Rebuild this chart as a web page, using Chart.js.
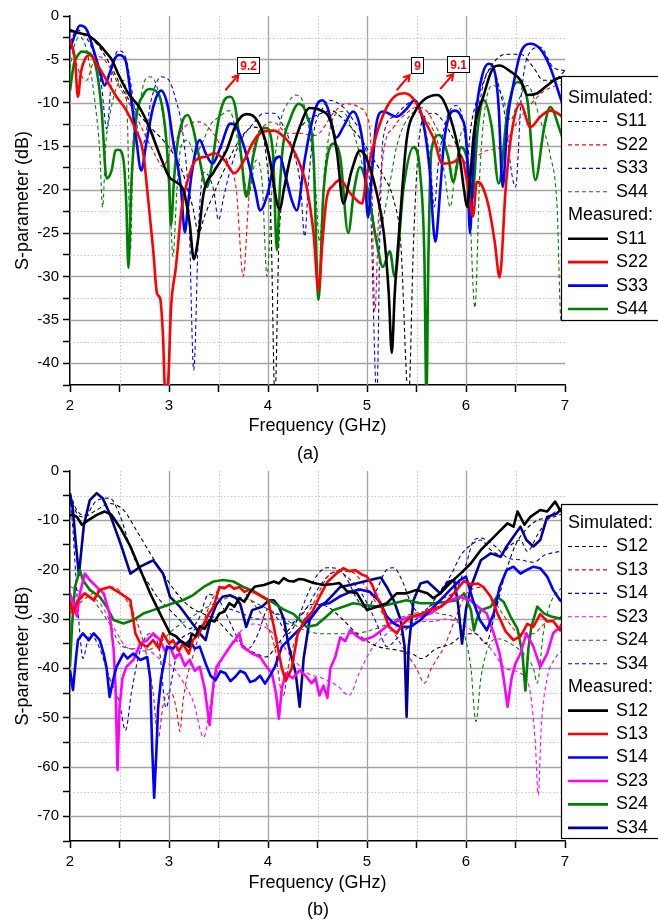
<!DOCTYPE html>
<html>
<head>
<meta charset="utf-8">
<script src="https://cdn.jsdelivr.net/npm/chart.js"></script>
<style>
  body { margin: 0; background: #fff; }
  #chartA { position: absolute; left: 0; top: 0; }
  #chartB { position: absolute; left: 0; top: 458px; }
</style>
</head>
<body>
<canvas id="chartA" width="658" height="470"></canvas>
<canvas id="chartB" width="658" height="463"></canvas>
<script>
// ---- (a) reflection, [GHz, dB] ----
const aS11Sim = [[2.00,-1.8],[2.13,-2.0],[2.27,-3.2],[2.40,-5.5],[2.54,-8.6],[2.67,-10.9],[2.81,-12.8],[2.94,-14.3],[3.04,-15.8],[3.14,-18.1],[3.24,-22],[3.30,-25],[3.36,-23],[3.44,-20.8],[3.57,-17.4],[3.71,-14.3],[3.85,-12.8],[3.92,-13],[3.98,-16],[4.03,-24],[4.07,-44],[4.11,-26],[4.16,-20],[4.20,-17.4],[4.30,-13.5],[4.40,-12],[4.50,-11.4],[4.64,-10.9],[4.77,-12],[4.87,-13.2],[4.97,-14.7],[5.07,-16.6],[5.17,-18.5],[5.27,-21.2],[5.34,-26],[5.42,-44],[5.47,-26],[5.52,-15],[5.58,-11.6],[5.68,-11.2],[5.78,-12.3],[5.88,-14.3],[5.95,-16],[6.00,-17],[6.06,-12],[6.17,-7.8],[6.27,-5.5],[6.40,-4.4],[6.55,-4.4],[6.68,-5.9],[6.78,-7.4],[6.88,-7.4],[7.00,-6.3]];
const aS22Sim = [[2.00,-3],[2.10,-6.6],[2.17,-7.4],[2.23,-5.5],[2.30,-4.7],[2.40,-5.9],[2.50,-8.2],[2.64,-10.9],[2.75,-13.5],[2.87,-16.2],[2.94,-17.4],[3.00,-16],[3.07,-14.3],[3.20,-12.4],[3.31,-12.2],[3.41,-13],[3.51,-14.7],[3.61,-17.4],[3.68,-20],[3.75,-30],[3.80,-22],[3.85,-15.5],[3.95,-12.8],[4.05,-12.2],[4.20,-13.5],[4.33,-13.5],[4.45,-13.8],[4.52,-13.5],[4.66,-11.2],[4.79,-10.1],[4.92,-10.5],[5.00,-11.6],[5.04,-15],[5.08,-34],[5.12,-22],[5.17,-15.5],[5.27,-12.8],[5.40,-11.2],[5.50,-10.5],[5.60,-10.9],[5.70,-12.8],[5.77,-14.3],[5.86,-15],[5.94,-15],[6.08,-16.2],[6.21,-15.5],[6.35,-15.1],[6.45,-13.5],[6.53,-12],[6.66,-10.1],[6.76,-8.9],[6.86,-8.2],[7.00,-7.8]];
const aS33Sim = [[2.00,-3],[2.07,-1.6],[2.13,-2],[2.24,-4.3],[2.32,-8.2],[2.37,-13],[2.43,-5.9],[2.49,-4],[2.56,-4.7],[2.62,-8.2],[2.69,-13.5],[2.74,-14.7],[2.82,-9.7],[2.92,-7],[3.00,-7.4],[3.07,-9.7],[3.14,-13.5],[3.20,-22],[3.25,-40.8],[3.30,-24],[3.35,-18],[3.45,-20],[3.50,-23.5],[3.55,-21],[3.61,-18.1],[3.71,-14.7],[3.85,-12.4],[3.96,-11.2],[4.06,-11.2],[4.16,-12.8],[4.26,-15.8],[4.33,-19.7],[4.37,-25.4],[4.41,-19],[4.46,-13.5],[4.56,-10.5],[4.62,-9.7],[4.76,-10.5],[4.86,-12],[4.96,-14.3],[5.03,-20],[5.10,-44],[5.13,-25],[5.16,-14.3],[5.27,-11.6],[5.37,-10.5],[5.48,-9.7],[5.57,-12],[5.64,-17],[5.68,-22],[5.72,-17],[5.80,-12],[5.90,-10.3],[5.96,-11.5],[6.02,-17],[6.05,-24],[6.08,-15],[6.12,-11.3],[6.19,-7.2],[6.26,-6],[6.33,-8],[6.40,-12],[6.46,-18],[6.50,-19.7],[6.56,-9],[6.62,-4.7],[6.75,-3.6],[6.88,-5.9],[7.00,-6.3]];
const aS44Sim = [[2.00,-6],[2.05,-3.2],[2.10,-2.4],[2.17,-4],[2.25,-9.7],[2.30,-15.5],[2.33,-22],[2.36,-15],[2.40,-11.6],[2.47,-8.2],[2.54,-7.4],[2.58,-12],[2.61,-27],[2.64,-14],[2.69,-10.9],[2.75,-7.6],[2.81,-7],[2.88,-8.2],[2.95,-12.4],[3.00,-18.1],[3.04,-27.7],[3.08,-20],[3.12,-15.1],[3.19,-14.3],[3.26,-16],[3.32,-15],[3.42,-12.5],[3.51,-11.6],[3.61,-10.9],[3.68,-13.5],[3.75,-18.1],[3.80,-20.8],[3.88,-16.6],[3.94,-19],[3.99,-30],[4.04,-20],[4.12,-12.5],[4.22,-9.7],[4.28,-9.1],[4.36,-10.1],[4.43,-14.3],[4.48,-19.7],[4.52,-26],[4.57,-18],[4.65,-12],[4.75,-11],[4.85,-13],[4.95,-17],[5.05,-22],[5.10,-26],[5.15,-24],[5.22,-20],[5.30,-15],[5.40,-12],[5.50,-11],[5.60,-12],[5.70,-14],[5.78,-18],[5.84,-22],[5.90,-17],[5.97,-13],[6.03,-20],[6.09,-33.6],[6.14,-18],[6.20,-10],[6.28,-8],[6.36,-9],[6.45,-12],[6.52,-10],[6.62,-8],[6.75,-12],[6.85,-16],[6.92,-22],[6.96,-35],[7.00,-30]];

const aS11Meas = [[2.00,-1.6],[2.10,-2.0],[2.18,-2.2],[2.27,-3.0],[2.35,-4.0],[2.42,-5.0],[2.50,-7.0],[2.60,-9.1],[2.70,-10.5],[2.80,-12.8],[2.90,-15.8],[3.00,-18.5],[3.08,-19.2],[3.15,-20.2],[3.21,-24],[3.25,-28],[3.29,-26],[3.35,-20.4],[3.45,-18],[3.58,-15.5],[3.68,-12.4],[3.78,-11.3],[3.85,-11.5],[3.95,-13.5],[4.02,-16.6],[4.09,-21.5],[4.12,-22.3],[4.16,-20],[4.22,-16.6],[4.32,-12.8],[4.42,-10.6],[4.52,-10.8],[4.64,-12.4],[4.70,-16],[4.76,-21.6],[4.84,-18],[4.93,-15.5],[4.99,-16.3],[5.09,-20],[5.17,-25],[5.22,-32],[5.25,-38.8],[5.28,-32],[5.33,-24],[5.40,-14.3],[5.49,-10.9],[5.57,-9.7],[5.71,-9.1],[5.77,-9.7],[5.87,-12.8],[5.93,-15.8],[5.98,-20],[6.01,-22],[6.04,-19],[6.08,-13.5],[6.18,-9.1],[6.28,-5.9],[6.34,-5.7],[6.45,-6.4],[6.55,-7.4],[6.62,-9.1],[6.72,-8.9],[6.82,-8.0],[6.92,-7.2],[7.00,-7.0]];
const aS22Meas = [[2.00,-2.8],[2.05,-5],[2.08,-9.3],[2.11,-6.5],[2.15,-5.0],[2.20,-4.5],[2.28,-5.7],[2.37,-7.4],[2.47,-9.3],[2.57,-10.9],[2.66,-13],[2.74,-15.8],[2.78,-20],[2.84,-26.9],[2.88,-32],[2.91,-32.5],[2.94,-37],[2.96,-43],[2.99,-42.2],[3.02,-33.7],[3.07,-28.9],[3.13,-22],[3.20,-18.5],[3.27,-16.6],[3.37,-16.2],[3.46,-15.8],[3.56,-16.6],[3.66,-18.1],[3.76,-16.6],[3.86,-14.3],[3.96,-13.3],[4.06,-13.2],[4.16,-13.9],[4.22,-14.7],[4.32,-17],[4.39,-19.7],[4.46,-25],[4.51,-31.6],[4.55,-26],[4.59,-21.2],[4.66,-19.5],[4.73,-18.9],[4.83,-20.4],[4.95,-21.6],[5.00,-18.1],[5.10,-13.5],[5.20,-10.5],[5.30,-9.1],[5.38,-8.9],[5.48,-9.7],[5.58,-12],[5.68,-14.3],[5.76,-17],[5.88,-16.8],[5.95,-16.2],[6.02,-19.7],[6.07,-23.1],[6.11,-19.1],[6.16,-19.5],[6.23,-22],[6.29,-26],[6.34,-30.1],[6.40,-20],[6.46,-13.5],[6.55,-10.1],[6.65,-12.8],[6.75,-11.6],[6.85,-10.9],[6.95,-11.4],[7.00,-12]];
const aS33Meas = [[2.00,-3.8],[2.05,-2.2],[2.10,-1.1],[2.17,-1.6],[2.24,-4.0],[2.30,-6.3],[2.35,-8.0],[2.40,-6.6],[2.45,-5.0],[2.49,-4.5],[2.56,-5.1],[2.62,-9.7],[2.67,-14.3],[2.72,-17.8],[2.77,-14.7],[2.84,-10.5],[2.92,-8.6],[2.99,-10.5],[3.04,-14.3],[3.12,-19.7],[3.16,-24.9],[3.19,-22],[3.23,-18.1],[3.31,-14.3],[3.37,-15.8],[3.44,-17],[3.52,-15.1],[3.62,-12.4],[3.67,-12.6],[3.77,-15.5],[3.87,-20],[3.92,-22.4],[4.00,-20.3],[4.07,-16.6],[4.12,-16.2],[4.17,-18.1],[4.24,-21.2],[4.29,-22.4],[4.37,-16.6],[4.44,-12.4],[4.50,-10.1],[4.55,-9.7],[4.60,-10.5],[4.69,-14],[4.76,-12.8],[4.86,-11],[4.93,-12.8],[4.97,-16],[5.01,-23.2],[5.05,-18],[5.09,-12.8],[5.16,-11],[5.30,-11.6],[5.40,-10.7],[5.48,-9.7],[5.57,-12.4],[5.63,-17.4],[5.69,-26],[5.74,-20],[5.78,-14.3],[5.88,-10.9],[5.95,-11.6],[6.01,-15.5],[6.04,-25],[6.07,-18],[6.10,-11.6],[6.17,-6.6],[6.23,-5.5],[6.30,-7.0],[6.33,-10.5],[6.37,-19.7],[6.42,-12],[6.48,-7.8],[6.55,-4.3],[6.65,-3.2],[6.75,-3.8],[6.85,-5.9],[6.95,-9.3],[7.00,-11]];
const aS44Meas = [[2.00,-8.6],[2.04,-5.5],[2.07,-4.7],[2.12,-4.1],[2.20,-4.3],[2.27,-6.3],[2.32,-10.9],[2.37,-18.7],[2.42,-17.8],[2.46,-15.5],[2.49,-15.4],[2.54,-16.6],[2.57,-22],[2.59,-29],[2.62,-19.3],[2.67,-11.7],[2.74,-9.1],[2.80,-8.4],[2.89,-8.9],[2.96,-12.8],[3.00,-19],[3.02,-24.1],[3.05,-19],[3.08,-15.1],[3.14,-12],[3.19,-11.4],[3.24,-12.8],[3.30,-16],[3.38,-19.7],[3.43,-17.4],[3.50,-12],[3.57,-9.5],[3.62,-9.3],[3.67,-10.5],[3.73,-16.2],[3.78,-20.8],[3.85,-16.2],[3.91,-13.5],[3.98,-12.9],[4.05,-15.8],[4.09,-27],[4.12,-19.7],[4.15,-15.1],[4.22,-12],[4.31,-10.1],[4.39,-11.4],[4.46,-16.2],[4.51,-32.7],[4.56,-20.4],[4.66,-14.7],[4.73,-16.3],[4.81,-25],[4.87,-20],[4.93,-17.4],[5.00,-19.7],[5.10,-26.2],[5.16,-28.9],[5.23,-27.1],[5.28,-30],[5.37,-19.7],[5.47,-15.1],[5.54,-18.5],[5.58,-28],[5.60,-44],[5.62,-28],[5.65,-15.5],[5.73,-13.7],[5.82,-16.2],[5.87,-19.1],[5.95,-15.1],[6.02,-17],[6.06,-21.2],[6.12,-12.8],[6.18,-9.7],[6.26,-12.8],[6.33,-19.3],[6.42,-10.9],[6.52,-7.6],[6.62,-9.7],[6.70,-18.9],[6.79,-12.8],[6.85,-10.5],[6.95,-13.2],[7.00,-15]];

// ---- (b) coupling, [GHz, dB] ----
const bS12Sim = [[2.00,-5.2],[2.07,-8.6],[2.13,-9.3],[2.27,-7.9],[2.40,-6.6],[2.54,-7.9],[2.67,-12],[2.81,-16.7],[2.94,-20.8],[3.08,-24.8],[3.21,-27.5],[3.34,-28.9],[3.48,-30.2],[3.61,-32.9],[3.75,-35.6],[3.88,-37],[3.98,-37.7],[4.08,-35.6],[4.18,-32.9],[4.30,-30],[4.45,-27],[4.60,-27.5],[4.75,-30],[4.90,-33],[5.10,-35.5],[5.30,-36.3],[5.45,-37],[5.55,-38],[5.70,-36],[5.85,-35],[6.00,-33],[6.10,-33],[6.20,-35],[6.28,-30],[6.38,-22],[6.50,-15],[6.60,-12],[6.72,-10],[6.85,-9.5],[7.00,-8.5]];
const bS13Sim = [[2.00,-28.9],[2.13,-26.2],[2.30,-24.1],[2.44,-23.5],[2.57,-26.2],[2.67,-30.2],[2.77,-37],[2.84,-45],[2.89,-54.2],[2.94,-47.5],[3.00,-45],[3.04,-45.5],[3.08,-49],[3.11,-52.8],[3.14,-47],[3.18,-42],[3.25,-37],[3.31,-33],[3.45,-25.5],[3.58,-23.4],[3.71,-23.8],[3.85,-26.8],[3.98,-30.8],[4.07,-36],[4.15,-45.7],[4.22,-38],[4.33,-31.5],[4.46,-26.8],[4.60,-21.5],[4.73,-20.3],[4.85,-20.5],[4.95,-22.5],[5.10,-27],[5.25,-32],[5.40,-37],[5.50,-40],[5.58,-43],[5.65,-40],[5.78,-35.6],[5.91,-29],[6.00,-25],[6.15,-23.6],[6.28,-26.3],[6.42,-30.4],[6.55,-33],[6.68,-33],[6.79,-31],[6.95,-29.7],[7.00,-29.5]];
const bS14Sim = [[2.00,-5],[2.03,-12],[2.07,-25],[2.10,-33],[2.13,-38],[2.20,-33],[2.30,-36],[2.40,-42],[2.50,-47],[2.56,-52.6],[2.62,-45],[2.70,-37],[2.80,-33],[2.90,-36],[2.97,-48],[3.03,-42],[3.10,-35],[3.20,-33],[3.35,-31],[3.50,-29],[3.60,-28],[3.75,-29],[3.90,-30],[4.00,-30],[4.10,-29],[4.20,-31],[4.35,-29],[4.50,-24],[4.62,-21],[4.70,-20.3],[4.80,-21.5],[4.95,-25],[5.10,-31],[5.20,-35.6],[5.30,-34],[5.45,-31],[5.60,-28],[5.75,-26],[5.90,-24],[6.00,-19],[6.08,-14],[6.15,-13.6],[6.28,-15],[6.42,-17.6],[6.55,-18],[6.68,-18.5],[6.80,-17],[6.95,-16.3],[7.00,-16]];
const bS23Sim = [[2.00,-23.4],[2.13,-24.8],[2.30,-26.8],[2.45,-32],[2.60,-36],[2.75,-36],[2.90,-38],[3.05,-40],[3.15,-43],[3.25,-47],[3.35,-54],[3.42,-47],[3.50,-40],[3.60,-36],[3.70,-33],[3.85,-31],[4.00,-32],[4.10,-34],[4.25,-38],[4.40,-41],[4.55,-42],[4.70,-43.5],[4.82,-45.5],[4.92,-41],[5.05,-36],[5.20,-33],[5.35,-31],[5.50,-30.5],[5.65,-30.5],[5.80,-30],[5.95,-31],[6.10,-33],[6.25,-36],[6.40,-40],[6.55,-41],[6.65,-45],[6.70,-55],[6.73,-65.7],[6.76,-52],[6.82,-42],[6.90,-38],[7.00,-36]];
const bS24Sim = [[2.00,-28],[2.10,-26],[2.20,-25.5],[2.30,-28],[2.40,-31],[2.50,-35],[2.60,-36],[2.75,-36.5],[2.90,-35],[3.05,-32],[3.20,-30],[3.35,-28],[3.50,-26.5],[3.65,-25.5],[3.80,-26],[3.95,-27.5],[4.10,-29],[4.25,-31],[4.40,-32.5],[4.55,-33],[4.70,-33],[4.85,-33],[5.00,-32.5],[5.15,-31.5],[5.30,-30],[5.45,-29],[5.60,-28.5],[5.75,-29],[5.90,-30],[5.98,-33],[6.05,-40],[6.10,-50.8],[6.15,-42],[6.22,-36],[6.32,-34],[6.45,-35],[6.58,-37],[6.68,-40],[6.72,-43],[6.78,-33],[6.85,-27],[6.95,-24],[7.00,-23.5]];
const bS34Sim = [[2.00,-4.5],[2.07,-8],[2.15,-9],[2.27,-6],[2.40,-5.5],[2.51,-9.3],[2.60,-15],[2.70,-20],[2.80,-23],[2.90,-26],[3.00,-28],[3.10,-30],[3.20,-32],[3.30,-30],[3.40,-25],[3.50,-26],[3.60,-30],[3.70,-34],[3.80,-36],[3.90,-33],[4.00,-28],[4.10,-30],[4.20,-33],[4.30,-30],[4.40,-25],[4.50,-21],[4.60,-19.6],[4.70,-19.8],[4.80,-22],[4.90,-26],[5.00,-28],[5.10,-24],[5.20,-20],[5.27,-19.6],[5.35,-22],[5.45,-27],[5.55,-29],[5.65,-27],[5.75,-24],[5.85,-21],[5.95,-17],[6.05,-15],[6.15,-14],[6.25,-16],[6.35,-17],[6.45,-15],[6.55,-14],[6.62,-16.3],[6.72,-13],[6.82,-10],[6.92,-8],[7.00,-7.5]];

const bS12Meas = [[2.00,-8.9],[2.04,-9.0],[2.07,-9.3],[2.12,-10.9],[2.19,-9.9],[2.27,-8.9],[2.35,-8.2],[2.42,-8.9],[2.51,-11.6],[2.61,-15.3],[2.71,-20],[2.81,-24.8],[2.91,-28.9],[3.01,-32.9],[3.07,-33.5],[3.11,-34.3],[3.16,-35],[3.20,-35.6],[3.23,-33],[3.27,-33.5],[3.31,-31.5],[3.36,-32],[3.41,-30.2],[3.46,-30.5],[3.51,-28.9],[3.56,-28.5],[3.61,-26.8],[3.66,-27.5],[3.71,-25.8],[3.76,-26.5],[3.82,-24.5],[3.87,-23.4],[3.96,-23.1],[4.06,-22.4],[4.11,-22.8],[4.16,-21.7],[4.21,-22.3],[4.26,-22.4],[4.31,-21.9],[4.36,-22],[4.46,-22.7],[4.56,-23.1],[4.66,-22.9],[4.72,-22.7],[4.80,-24.4],[4.90,-24.8],[5.00,-28.2],[5.10,-27.5],[5.20,-26.8],[5.30,-24.8],[5.40,-24.8],[5.50,-24.1],[5.61,-24.8],[5.67,-25.8],[5.74,-24.8],[5.84,-22.7],[5.95,-20.7],[6.05,-18.7],[6.15,-16],[6.25,-14],[6.35,-12],[6.42,-10.6],[6.48,-11.3],[6.52,-8.2],[6.59,-10.9],[6.65,-9.3],[6.75,-7.9],[6.82,-8.2],[6.90,-6.2],[6.95,-7.9],[7.00,-8.5]];
const bS13Meas = [[2.00,-26.2],[2.03,-28.9],[2.08,-26.2],[2.15,-24.8],[2.24,-26.2],[2.30,-24.1],[2.40,-23.5],[2.51,-24.8],[2.61,-26.2],[2.66,-32.9],[2.71,-35],[2.78,-35.6],[2.84,-34.3],[2.90,-36],[2.94,-32.9],[3.00,-35],[3.04,-34.3],[3.10,-36.5],[3.14,-35],[3.20,-37],[3.24,-34.3],[3.30,-33],[3.34,-31.6],[3.40,-29],[3.45,-27.5],[3.51,-23.5],[3.56,-23.8],[3.61,-23.1],[3.66,-23.9],[3.71,-23.5],[3.76,-24.5],[3.81,-24.1],[3.90,-25],[4.00,-26.2],[4.06,-31.6],[4.10,-36],[4.14,-40],[4.18,-42.5],[4.24,-40],[4.30,-33],[4.38,-30],[4.45,-28.5],[4.52,-25.5],[4.60,-22.5],[4.69,-20.8],[4.76,-19.7],[4.82,-20.3],[4.88,-20.1],[4.95,-21],[5.00,-21.4],[5.05,-23],[5.10,-25.5],[5.16,-28.1],[5.22,-31.5],[5.30,-32.9],[5.36,-31],[5.45,-29.5],[5.55,-29],[5.65,-28],[5.75,-27.5],[5.85,-25.5],[5.93,-23.5],[5.98,-22.3],[6.05,-23],[6.12,-22.8],[6.18,-23.6],[6.25,-25.5],[6.32,-29],[6.40,-32.5],[6.48,-34.3],[6.55,-33.5],[6.62,-31],[6.68,-31.6],[6.75,-29],[6.82,-30.5],[6.88,-30.4],[6.95,-32.3],[7.00,-31]];
const bS14Meas = [[2.00,-40.4],[2.03,-44.4],[2.06,-38],[2.08,-34.3],[2.13,-32.9],[2.19,-34.3],[2.24,-32.9],[2.30,-34.3],[2.34,-37],[2.37,-40],[2.40,-45.8],[2.44,-42],[2.47,-39.7],[2.54,-37],[2.58,-38],[2.64,-37],[2.71,-38.3],[2.78,-37.7],[2.81,-42],[2.83,-56],[2.85,-66.2],[2.87,-58],[2.89,-48],[2.92,-42],[2.98,-35.6],[3.04,-36],[3.11,-34.3],[3.16,-35.2],[3.21,-34.3],[3.26,-36],[3.31,-35.6],[3.37,-39],[3.42,-41.5],[3.47,-42.4],[3.52,-40.6],[3.57,-41],[3.62,-42.6],[3.67,-41.7],[3.72,-40.5],[3.77,-41],[3.82,-42.8],[3.87,-42.4],[3.92,-41.5],[3.97,-43.1],[4.02,-41.5],[4.07,-39.7],[4.14,-35.6],[4.24,-33.6],[4.34,-31.6],[4.44,-29.5],[4.54,-27],[4.62,-26.8],[4.72,-25.5],[4.83,-24.5],[4.93,-24],[5.03,-24.5],[5.13,-26.5],[5.20,-29.5],[5.27,-30.9],[5.34,-31.6],[5.44,-31.6],[5.54,-30.2],[5.64,-28.2],[5.74,-26.2],[5.84,-24.1],[5.94,-22.1],[6.00,-21.4],[6.07,-26.2],[6.14,-30.2],[6.21,-32.3],[6.28,-28.9],[6.34,-23.5],[6.41,-20.1],[6.48,-19.4],[6.55,-20.8],[6.61,-20.1],[6.68,-19.4],[6.75,-19.7],[6.82,-21.4],[6.88,-24.1],[6.95,-26.2],[7.00,-27]];
const bS23Meas = [[2.00,-24.8],[2.04,-27],[2.07,-29.5],[2.10,-24.8],[2.15,-20.8],[2.20,-22.1],[2.27,-23.5],[2.34,-24.8],[2.40,-28.9],[2.44,-36],[2.46,-43.7],[2.48,-60.6],[2.50,-48],[2.53,-42],[2.57,-39.7],[2.64,-38.3],[2.71,-35],[2.78,-34.3],[2.84,-32.9],[2.91,-34.3],[2.96,-36.5],[3.01,-35.6],[3.06,-38],[3.11,-37],[3.16,-39.5],[3.21,-38.3],[3.26,-40.5],[3.31,-39.7],[3.36,-44],[3.41,-51.5],[3.45,-43],[3.48,-39.7],[3.57,-37],[3.62,-35.5],[3.67,-34.3],[3.71,-32.9],[3.74,-35.6],[3.84,-37],[3.92,-37.7],[3.98,-39.5],[4.04,-41],[4.08,-45],[4.11,-50.2],[4.14,-44],[4.18,-41],[4.25,-42],[4.32,-40.4],[4.38,-41.5],[4.44,-43],[4.48,-42],[4.52,-45.5],[4.56,-43.5],[4.60,-46],[4.63,-40],[4.68,-37.7],[4.73,-33.7],[4.78,-34.5],[4.83,-32.3],[4.90,-33.5],[4.96,-34.3],[5.06,-33.6],[5.15,-32.3],[5.23,-30.9],[5.34,-30.2],[5.44,-29.5],[5.54,-29.5],[5.64,-28.9],[5.74,-27.5],[5.84,-26.2],[5.94,-25.5],[6.04,-26.2],[6.12,-27.5],[6.21,-28.9],[6.28,-32.9],[6.34,-37],[6.38,-42],[6.42,-47.8],[6.46,-42],[6.50,-39],[6.55,-37],[6.61,-32.9],[6.68,-35.6],[6.75,-39.7],[6.82,-37],[6.88,-32.9],[6.95,-31.6],[7.00,-30]];
const bS24Meas = [[2.00,-39.7],[2.02,-31.6],[2.05,-23.5],[2.10,-20.1],[2.13,-22.1],[2.20,-24.1],[2.30,-25.5],[2.37,-27.5],[2.44,-30.2],[2.54,-30.9],[2.64,-30.2],[2.74,-28.9],[2.84,-28.2],[2.94,-27.5],[3.04,-26.8],[3.14,-26.2],[3.24,-25.2],[3.35,-23.5],[3.45,-22.4],[3.55,-22.1],[3.65,-22.4],[3.75,-23.5],[3.85,-24.3],[3.95,-25.5],[4.06,-26.8],[4.15,-28],[4.26,-29],[4.32,-30.2],[4.39,-31.6],[4.49,-31.2],[4.59,-29.5],[4.66,-28.2],[4.76,-27.5],[4.86,-26.8],[5.00,-27.2],[5.13,-27.5],[5.27,-26.8],[5.40,-26.2],[5.54,-26.8],[5.67,-26.8],[5.81,-26.5],[5.91,-26.2],[5.98,-24.8],[6.05,-28.2],[6.08,-32.3],[6.11,-30],[6.15,-28.2],[6.25,-27.5],[6.31,-25.5],[6.38,-26.5],[6.45,-29.5],[6.52,-32],[6.57,-37],[6.60,-44.5],[6.63,-36],[6.66,-31.6],[6.72,-27.5],[6.79,-28.9],[6.86,-29.5],[6.95,-29.9],[7.00,-29]];
const bS34Meas = [[2.00,-4.5],[2.03,-7.9],[2.06,-15],[2.09,-21],[2.11,-17],[2.14,-11],[2.20,-5.9],[2.27,-4.5],[2.33,-5.5],[2.40,-8.6],[2.51,-14.7],[2.61,-20.8],[2.71,-19.4],[2.80,-18.5],[2.84,-18.1],[2.94,-20.8],[3.01,-25.5],[3.11,-27.5],[3.21,-30.2],[3.31,-32.9],[3.37,-34.3],[3.42,-30],[3.48,-27],[3.54,-25.5],[3.62,-25.2],[3.68,-25.8],[3.72,-27],[3.78,-31.6],[3.84,-28.2],[3.94,-27.5],[4.01,-26.2],[4.06,-26.2],[4.11,-27.5],[4.16,-30],[4.21,-35.6],[4.28,-41],[4.32,-47.8],[4.36,-38],[4.42,-30.2],[4.52,-27.5],[4.59,-26.5],[4.66,-25],[4.73,-23.5],[4.83,-23.1],[4.93,-22.6],[5.03,-22.1],[5.14,-21.6],[5.20,-23.5],[5.27,-26.2],[5.34,-30.2],[5.38,-35.6],[5.40,-49.8],[5.42,-36],[5.47,-26.2],[5.54,-22.8],[5.61,-22.4],[5.67,-23.5],[5.74,-24.8],[5.82,-22.5],[5.88,-22.1],[5.92,-27],[5.96,-35],[6.00,-28],[6.05,-23.5],[6.15,-18.1],[6.25,-16.7],[6.35,-17.4],[6.41,-15.3],[6.48,-13.3],[6.55,-11.3],[6.61,-14],[6.68,-15.3],[6.75,-14],[6.82,-9.3],[6.92,-8.6],[6.95,-7.9],[7.00,-9]];

// marker boxes on (a): label at [GHz, dB], arrow from -> to
const annotA = [
  { text: '9.2', at: [3.80, -5.67], from: [3.57, -8.55], to: [3.70, -6.82] },
  { text: '9',   at: [5.505, -5.67], from: [5.30, -8.55], to: [5.43, -6.82] },
  { text: '9.1', at: [5.92, -5.56], from: [5.74, -8.43], to: [5.87, -6.70] }
];

const FONT = '"Liberation Sans", Arial, Helvetica, sans-serif';
Chart.defaults.font.family = FONT;
Chart.defaults.color = '#000';

function pts(arr) { return arr.map(function (p) { return { x: p[0], y: p[1] }; }); }

function sim(label, arr, color) {
  return { label: label, kind: 'sim', data: pts(arr), borderColor: color, borderWidth: 1.1,
    borderDash: [4, 3], pointRadius: 0, cubicInterpolationMode: 'monotone', clip: 0 };
}
// smooth = false keeps the noisy measured traces as straight segments
function meas(label, arr, color, smooth) {
  const ds = { label: label, kind: 'meas', data: pts(arr), borderColor: color, borderWidth: 2.6,
    pointRadius: 0, clip: 0, borderJoinStyle: 'round' };
  if (smooth) ds.cubicInterpolationMode = 'monotone';
  else ds.tension = 0;
  return ds;
}

// grid drawn by hand: solid on major steps, dotted in between
function gridPlugin(xMajor, yMajor) {
  return {
    id: 'refGrid',
    beforeDatasetsDraw(chart) {
      const ctx = chart.ctx, a = chart.chartArea, xs = chart.scales.x, ys = chart.scales.y;
      ctx.save();
      function style(major) {
        ctx.strokeStyle = major ? '#a4a4a4' : '#c6c6c6';
        ctx.lineWidth = major ? 1.3 : 1;
        ctx.setLineDash(major ? [] : [1.5, 2]);
      }
      xs.ticks.forEach(function (t) {
        if (t.value <= xs.min || t.value >= xs.max) return;
        const px = Math.round(xs.getPixelForValue(t.value)) + 0.5;
        style(Math.abs(t.value % xMajor) < 1e-6);
        ctx.beginPath(); ctx.moveTo(px, a.top); ctx.lineTo(px, a.bottom); ctx.stroke();
      });
      ys.ticks.forEach(function (t) {
        if (t.value <= ys.min || t.value >= ys.max) return;
        const py = Math.round(ys.getPixelForValue(t.value)) + 0.5;
        style(Math.abs(t.value % yMajor) < 1e-6);
        ctx.beginPath(); ctx.moveTo(a.left, py); ctx.lineTo(a.right, py); ctx.stroke();
      });
      ctx.restore();
    }
  };
}

function legendPlugin(box, panel) {
  return {
    id: 'refLegend',
    afterDraw(chart) {
      const ctx = chart.ctx;
      const left = chart.chartArea.right - 4;
      const sets = chart.data.datasets;
      const rows = [{ head: 'Simulated:' }]
        .concat(sets.filter(function (d) { return d.kind === 'sim'; }))
        .concat([{ head: 'Measured:' }])
        .concat(sets.filter(function (d) { return d.kind === 'meas'; }));
      ctx.save();
      ctx.fillStyle = '#fff';
      ctx.fillRect(left, box.top, chart.width - left + 5, box.bottom - box.top);
      ctx.strokeStyle = '#000'; ctx.lineWidth = 1.2;
      ctx.strokeRect(left + 0.5, box.top + 0.5, chart.width - left + 5, box.bottom - box.top);
      ctx.font = '18px ' + FONT;
      ctx.textBaseline = 'middle';
      rows.forEach(function (r, i) {
        const y = box.top + box.first + i * 23.45;
        ctx.fillStyle = '#000';
        if (r.head) { ctx.fillText(r.head, left + 7, y); return; }
        ctx.strokeStyle = r.borderColor;
        ctx.lineWidth = r.kind === 'sim' ? 1.1 : 2.6;
        ctx.setLineDash(r.kind === 'sim' ? [4, 3] : []);
        ctx.beginPath(); ctx.moveTo(left + 7, y); ctx.lineTo(left + 47, y); ctx.stroke();
        ctx.fillText(r.label, left + 55, y);
      });
      ctx.textAlign = 'center';
      ctx.fillText(panel.text, panel.x, panel.y);
      ctx.restore();
    }
  };
}

const notesPlugin = {
  id: 'refNotes',
  afterDatasetsDraw(chart) {
    const ctx = chart.ctx, xs = chart.scales.x, ys = chart.scales.y;
    ctx.save();
    annotA.forEach(function (n) {
      const x0 = xs.getPixelForValue(n.from[0]), y0 = ys.getPixelForValue(n.from[1]);
      const x1 = xs.getPixelForValue(n.to[0]), y1 = ys.getPixelForValue(n.to[1]);
      const ang = Math.atan2(y1 - y0, x1 - x0);
      ctx.strokeStyle = '#f00'; ctx.lineWidth = 2;
      ctx.beginPath(); ctx.moveTo(x0, y0); ctx.lineTo(x1, y1); ctx.stroke();
      ctx.beginPath();
      ctx.moveTo(x1 - 7 * Math.cos(ang - 0.55), y1 - 7 * Math.sin(ang - 0.55));
      ctx.lineTo(x1, y1);
      ctx.lineTo(x1 - 7 * Math.cos(ang + 0.55), y1 - 7 * Math.sin(ang + 0.55));
      ctx.stroke();
      ctx.font = 'bold 12px ' + FONT;
      const w = ctx.measureText(n.text).width + 5, h = 16;
      const cx = xs.getPixelForValue(n.at[0]), cy = ys.getPixelForValue(n.at[1]);
      ctx.fillStyle = '#fff'; ctx.fillRect(cx - w / 2, cy - h / 2, w, h);
      ctx.strokeStyle = '#000'; ctx.lineWidth = 1;
      ctx.strokeRect(Math.round(cx - w / 2) + 0.5, Math.round(cy - h / 2) + 0.5, Math.round(w), h);
      ctx.fillStyle = '#f00'; ctx.textAlign = 'center'; ctx.textBaseline = 'middle';
      ctx.fillText(n.text, cx + 0.5, cy + 1);
    });
    ctx.restore();
  }
};

function scales(yMin, yStep, yLabelEvery, xAxisH, titleBottom) {
  return {
    x: {
      type: 'linear', min: 2, max: 7,
      ticks: { stepSize: 0.5, autoSkip: false, maxRotation: 0, padding: 5, font: { size: 15 },
        callback: function (v) { return Number.isInteger(v) ? String(v) : ''; } },
      grid: { drawOnChartArea: false, tickLength: 7, tickColor: '#000', tickWidth: 1.5 },
      border: { color: '#000', width: 1.5 },
      title: { display: true, text: 'Frequency (GHz)', font: { size: 18 }, padding: { top: 0, bottom: titleBottom } },
      afterFit: function (s) { s.height = xAxisH; }
    },
    y: {
      type: 'linear', min: yMin, max: 0,
      ticks: { stepSize: yStep, autoSkip: false, padding: 4, font: { size: 15 },
        callback: function (v) { return Math.abs(v % yLabelEvery) < 1e-6 ? String(v) : ''; } },
      grid: { drawOnChartArea: false, tickLength: 7, tickColor: '#000', tickWidth: 1.5 },
      border: { color: '#000', width: 1.5 },
      title: { display: true, text: 'S-parameter (dB)', font: { size: 18 }, padding: { top: 12, bottom: 0 } },
      afterFit: function (s) { s.width = 70; }
    }
  };
}

function baseOptions(padTop, sc) {
  return {
    responsive: false, animation: false, events: [],
    layout: { padding: { top: padTop, right: 93, bottom: 0, left: 0 } },
    plugins: { legend: { display: false }, tooltip: { enabled: false } },
    scales: sc
  };
}

// measured first so they are painted over the simulated traces
new Chart(document.getElementById('chartA'), {
  type: 'line',
  data: { datasets: [
    meas('S11', aS11Meas, '#000000', true), meas('S22', aS22Meas, '#ff0000', true),
    meas('S33', aS33Meas, '#0000ff', true), meas('S44', aS44Meas, '#008000', true),
    sim('S11', aS11Sim, '#000000'), sim('S22', aS22Sim, '#ff0000'),
    sim('S33', aS33Sim, '#0000ff'), sim('S44', aS44Sim, '#008000')
  ] },
  options: baseOptions(16, scales(-42.5, 2.5, 5, 85, 33)),
  plugins: [gridPlugin(1, 5), notesPlugin,
    legendPlugin({ top: 76, bottom: 320, first: 22 }, { text: '(a)', x: 308, y: 454 })]
});

new Chart(document.getElementById('chartB'), {
  type: 'line',
  data: { datasets: [
    meas('S12', bS12Meas, '#000000', false), meas('S13', bS13Meas, '#ff0000', false),
    meas('S14', bS14Meas, '#0000ff', false), meas('S23', bS23Meas, '#ff00ff', false),
    meas('S24', bS24Meas, '#008000', false), meas('S34', bS34Meas, '#00009c', false),
    sim('S12', bS12Sim, '#000000'), sim('S13', bS13Sim, '#ff0000'),
    sim('S14', bS14Sim, '#0000ff'), sim('S23', bS23Sim, '#ff00ff'),
    sim('S24', bS24Sim, '#008000'), sim('S34', bS34Sim, '#00009c')
  ] },
  options: baseOptions(13, scales(-75, 5, 10, 80, 27)),
  plugins: [gridPlugin(1, 10),
    legendPlugin({ top: 46, bottom: 380, first: 19 }, { text: '(b)', x: 318, y: 452 })]
});
</script>
</body>
</html>
